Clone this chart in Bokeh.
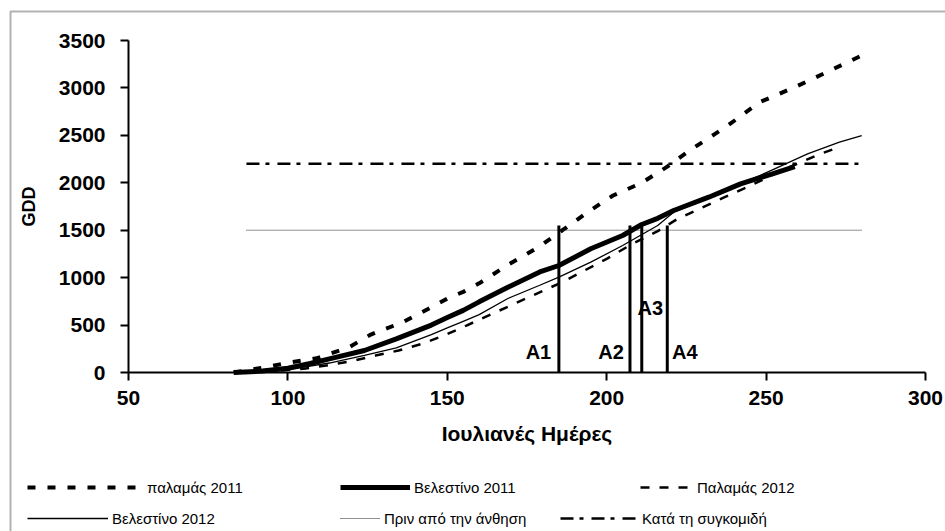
from bokeh.plotting import figure
from bokeh.models import Range1d, Legend, LegendItem, BoxAnnotation, FixedTicker, ColumnDataSource
from bokeh.core.properties import value
from bokeh.embed import file_html
from bokeh.resources import INLINE

# ---- data ----
pal11_day = [83, 92, 101, 109, 119, 126, 136, 145, 150, 155, 160, 169, 179, 186, 194, 202, 211, 219, 226, 234, 238, 248, 259, 269, 280]
pal11_gdd = [0, 50, 109, 150, 263, 400, 530, 688, 780, 850, 940, 1135, 1330, 1497, 1690, 1866, 2000, 2170, 2340, 2516, 2604, 2850, 3008, 3166, 3342]

vel11_day = [83, 92, 100, 107, 113, 124, 134, 145, 150, 155, 160, 169, 179, 185, 195, 205, 211, 216, 221, 232, 242, 252, 259]
vel11_gdd = [0, 15, 45, 95, 144, 232, 355, 500, 580, 655, 745, 899, 1060, 1128, 1304, 1444, 1560, 1625, 1708, 1848, 1989, 2095, 2170]

pal12_day = [86, 98, 105, 112, 120, 127.5, 134.7, 142, 149, 156, 171, 186, 200, 208, 216, 222, 229, 237, 244, 255, 267, 273]
pal12_gdd = [0, 20, 40, 74, 119, 179, 232, 302, 390, 495, 724, 952, 1198, 1356, 1490, 1615, 1725, 1848, 1953, 2130, 2305, 2375]

vel12_day = [84, 95, 103, 113, 124, 134, 145, 150, 155, 160, 169, 179, 185, 195, 205, 216, 221, 232, 242, 252, 263, 273, 280]
vel12_gdd = [0, 20, 45, 100, 180, 260, 400, 470, 540, 610, 780, 920, 1005, 1163, 1339, 1550, 1690, 1840, 1985, 2137, 2305, 2428, 2498]

flower_day = [87, 280]
flower_gdd = [1500, 1500]
harvest_day = [87, 280]
harvest_gdd = [2200, 2200]

stage_day = [185, 207.3, 211, 219]
stage_top = [1550, 1550, 1550, 1550]
stage_names = ["A1", "A2", "A3", "A4"]
label_day = [182.6, 205.4, 213.7, 220.5]
label_gdd = [211, 211, 675, 211]
label_align = ["right", "right", "center", "left"]

x_ticks = [50, 100, 150, 200, 250, 300]
y_ticks = [0, 500, 1000, 1500, 2000, 2500, 3000, 3500]

legend_labels = ["παλαμάς 2011", "Βελεστίνο 2011", "Παλαμάς 2012",
                 "Βελεστίνο 2012", "Πριν από την άνθηση", "Κατά τη συγκομιδή"]

FONT = "Liberation Sans"
W, H = 945, 531

# pixel geometry of the plotting area inside the full-canvas frame
X0, X1 = 50, 300
Y0, Y1 = 0, 3500
PX_L, PX_R = 128, 925
PY_T, PY_B = 40, 372
sx = (X1 - X0) / (PX_R - PX_L)
sy = (Y1 - Y0) / (PY_B - PY_T)
x_range = Range1d(X0 - PX_L * sx, X0 + (W - PX_L) * sx)
y_range = Range1d(Y0 - (H - PY_B) * sy, Y0 + PY_B * sy)

p = figure(width=W, height=H, output_backend="svg", toolbar_location=None,
           x_range=x_range, y_range=y_range,
           min_border=0, min_border_left=0, min_border_right=0,
           min_border_top=0, min_border_bottom=0)
p.outline_line_color = None
p.xgrid.visible = False
p.ygrid.visible = False
p.background_fill_color = "white"
p.border_fill_color = "white"

xa = p.xaxis[0]
ya = p.yaxis[0]
xa.fixed_location = Y0
ya.fixed_location = X0
xa.bounds = (X0, X1)
ya.bounds = (Y0, Y1)

for ax in (xa, ya):
    ax.axis_line_width = 2
    ax.axis_line_color = "black"
    ax.major_tick_line_width = 2
    ax.major_tick_line_color = "black"
    ax.major_tick_in = 0
    ax.major_tick_out = 8
    ax.minor_tick_line_color = None
    ax.major_label_text_font = FONT
    ax.major_label_text_font_style = "bold"
    ax.major_label_text_font_size = "21px"
    ax.major_label_text_color = "black"
    ax.axis_label_text_font = FONT
    ax.axis_label_text_font_style = "bold"
    ax.axis_label_text_color = "black"

xa.ticker = FixedTicker(ticks=x_ticks)
ya.ticker = FixedTicker(ticks=y_ticks)
xa.axis_label = "Ιουλιανές Ημέρες"
xa.axis_label_text_font_size = "21px"
xa.axis_label_standoff = 14
xa.major_label_standoff = 10
ya.axis_label = "GDD"
ya.axis_label_text_font_size = "18px"
ya.axis_label_standoff = 17
ya.major_label_standoff = 15

r_pal11 = p.line(pal11_day, pal11_gdd, line_color="black", line_width=4, line_dash="8 12")
r_vel11 = p.line(vel11_day, vel11_gdd, line_color="black", line_width=5)
r_pal12 = p.line(pal12_day, pal12_gdd, line_color="black", line_width=2.5, line_dash="9 10")
r_vel12 = p.line(vel12_day, vel12_gdd, line_color="black", line_width=1.3)
r_flow = p.line(flower_day, flower_gdd, line_color="#222222", line_width=1, line_dash="1 1")
r_harv = p.line(harvest_day, harvest_gdd, line_color="black", line_width=2.5, line_dash="13 6 4 8")

p.segment(x0=stage_day, y0=[0] * len(stage_day), x1=stage_day, y1=stage_top,
          line_color="black", line_width=3)

src = ColumnDataSource(dict(x=label_day, y=label_gdd, t=stage_names, a=label_align))
p.text(x="x", y="y", text="t", text_align="a", source=src, text_baseline="middle",
       text_font=value(FONT), text_font_style="bold", text_font_size="20px", text_color="black")

renderers = [r_pal11, r_vel11, r_pal12, r_vel12, r_flow, r_harv]
# (glyph left edge px, glyph width px, legend bottom px from canvas bottom)
legend_place = [(27, 116, 34), (340, 70, 34), (640, 53, 34),
                (27, 81, 3), (340, 40, 3), (560, 78, 3)]
for i, (xl, gw, yb) in enumerate(legend_place):
    lg = Legend(items=[LegendItem(label=legend_labels[i], renderers=[renderers[i]])],
                location=(xl, yb), orientation="vertical",
                glyph_width=gw, glyph_height=20, label_height=20, spacing=0,
                padding=0, margin=0, label_standoff=4,
                label_text_font=FONT, label_text_font_size="15px",
                label_text_color="black", border_line_color=None,
                background_fill_alpha=0)
    p.add_layout(lg, "center")

frame_box = BoxAnnotation(left=10, right=1000, top=11, bottom=600,
                          left_units="canvas", right_units="canvas",
                          top_units="canvas", bottom_units="canvas",
                          fill_alpha=0, line_color="black", line_width=2)
p.add_layout(frame_box)

open("out.html", "w").write(file_html(p, INLINE))
